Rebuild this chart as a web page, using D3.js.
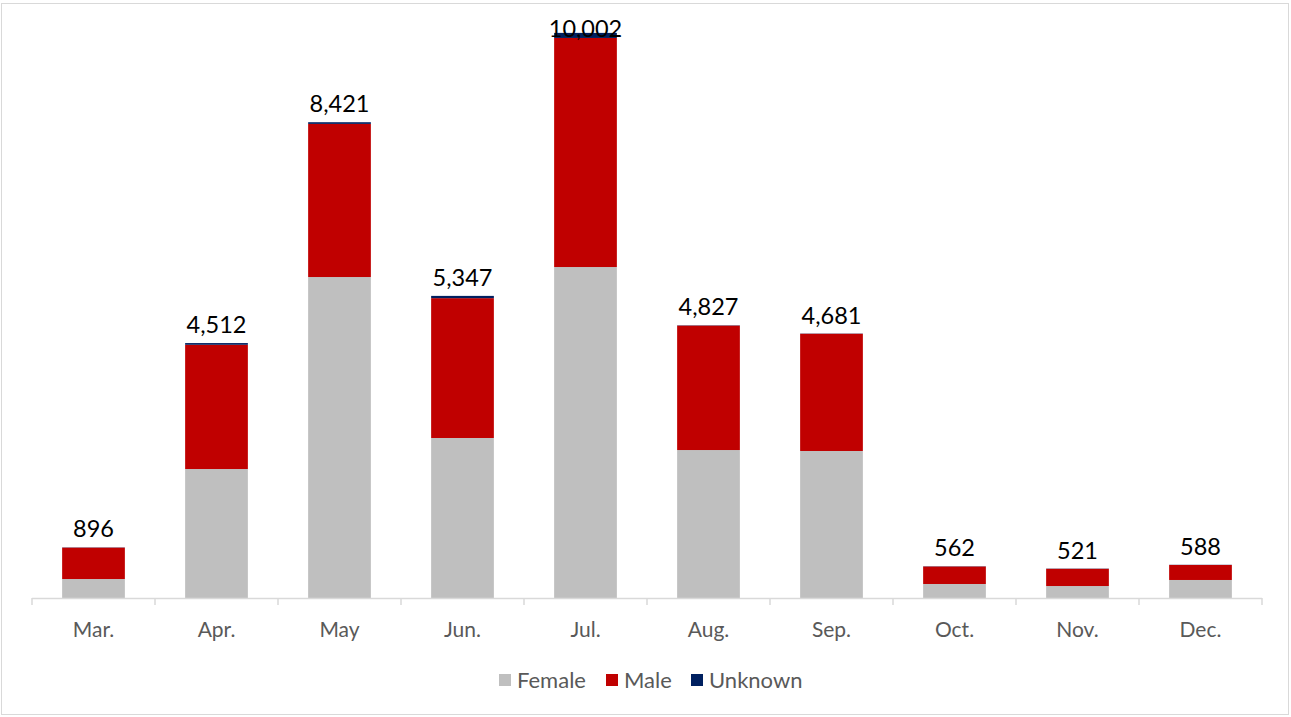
<!DOCTYPE html>
<html>
<head>
<meta charset="utf-8">
<script src="https://cdn.jsdelivr.net/npm/d3@7"></script>
<style>
body { margin: 0; background: #fff; }
text { font-family: "Lato", "Open Sans", sans-serif; }
</style>
</head>
<body>
<script>
// data
var months = ["Mar.", "Apr.", "May", "Jun.", "Jul.", "Aug.", "Sep.", "Oct.", "Nov.", "Dec."];
var female = [336, 2283, 5681, 2832, 5858, 2619, 2602, 248, 212, 319];
var male = [556, 2199, 2710, 2475, 4054, 2203, 2075, 310, 305, 266];
var unknown = [4, 30, 30, 40, 90, 5, 4, 4, 4, 3];
var totals = [896, 4512, 8421, 5347, 10002, 4827, 4681, 562, 521, 588];
var seriesNames = ["Female", "Male", "Unknown"];
var colors = ["#bfbfbf", "#c00000", "#002060"];

var width = 1291, height = 717;
var svg = d3.select("body").append("svg")
    .attr("width", width)
    .attr("height", height);

// outer border
svg.append("rect")
    .attr("x", 1.5).attr("y", 3.5)
    .attr("width", 1287).attr("height", 711)
    .attr("fill", "none")
    .attr("stroke", "#d9d9d9");

var rows = months.map(function(m, i) {
    return { month: m, Female: female[i], Male: male[i], Unknown: unknown[i], total: totals[i] };
});

var x = d3.scaleBand()
    .domain(months)
    .range([32, 1262])
    .paddingInner(0.49)
    .paddingOuter(0.245);

var y = d3.scaleLinear()
    .domain([0, 10000])
    .range([598, 33]);

var stack = d3.stack().keys(seriesNames)(rows);

svg.append("g").selectAll("g")
    .data(stack)
    .join("g")
    .attr("fill", function(d, i) { return colors[i]; })
    .selectAll("rect")
    .data(function(d) { return d; })
    .join("rect")
    .attr("x", function(d) { return x(d.data.month); })
    .attr("y", function(d) { return y(d[1]); })
    .attr("width", x.bandwidth())
    .attr("height", function(d) { return y(d[0]) - y(d[1]); });

// axis line and ticks
var axisG = svg.append("g");
axisG.append("line")
    .attr("x1", 32).attr("x2", 1262)
    .attr("y1", 598.5).attr("y2", 598.5)
    .attr("stroke", "#d9d9d9").attr("stroke-width", 1.5);

var tickXs = d3.range(months.length + 1).map(function(i) { return 32 + i * (1230 / months.length); });
axisG.selectAll(".tk")
    .data(tickXs)
    .join("line")
    .attr("x1", function(d) { return d; }).attr("x2", function(d) { return d; })
    .attr("y1", 598).attr("y2", 605)
    .attr("stroke", "#d9d9d9").attr("stroke-width", 1.5);

axisG.selectAll(".lbl")
    .data(months)
    .join("text")
    .attr("x", function(d) { return x(d) + x.bandwidth() / 2; })
    .attr("y", 637)
    .attr("text-anchor", "middle")
    .attr("font-size", 21)
    .attr("fill", "#595959")
    .text(function(d) { return d; });

// totals
svg.selectAll(".tot")
    .data(rows)
    .join("text")
    .attr("x", function(d) { return x(d.month) + x.bandwidth() / 2; })
    .attr("y", function(d) { return Math.max(y(d.total) - 10, 37); })
    .attr("text-anchor", "middle")
    .attr("font-size", 23.5)
    .attr("fill", "#000")
    .text(function(d) { return d3.format(",")(d.total); });

// legend
var legendX = [499, 606, 691];
var lg = svg.append("g").selectAll("g")
    .data(seriesNames)
    .join("g")
    .attr("transform", function(d, i) { return "translate(" + legendX[i] + ",674)"; });
lg.append("rect")
    .attr("width", 12).attr("height", 12)
    .attr("fill", function(d, i) { return colors[i]; });
lg.append("text")
    .attr("x", 18).attr("y", 14)
    .attr("font-size", 22)
    .attr("fill", "#595959")
    .text(function(d) { return d; });
</script>
</body>
</html>
